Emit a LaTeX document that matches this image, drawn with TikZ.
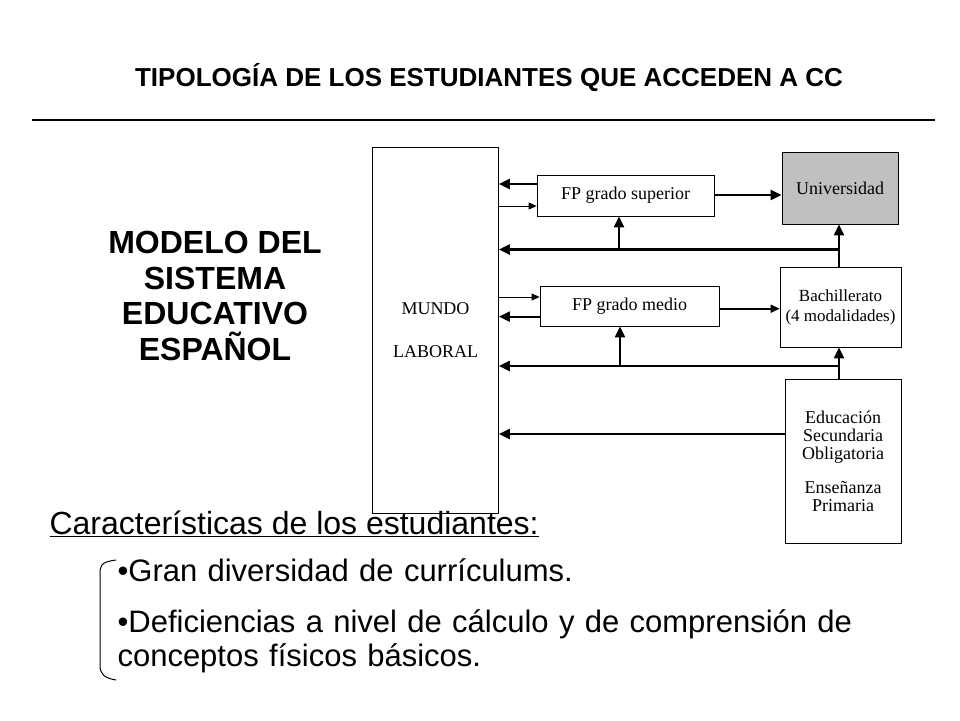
\documentclass[tikz,border=0pt]{standalone}
\usepackage{fontspec}
\setmainfont{Liberation Sans}
\newfontfamily\serifbox{Liberation Serif}
\usetikzlibrary{arrows.meta}
\begin{document}
\begin{tikzpicture}[x=1pt,y=-1pt,
  bx/.style={draw,line width=0.8pt,inner sep=0pt,font=\serifbox\fontsize{18}{20}\selectfont,align=center},
  thk/.style={line width=2.2pt,-{Triangle[length=11pt,width=10pt]}},
  med/.style={line width=1.6pt,-{Triangle[length=9pt,width=8pt]}},
  thn/.style={line width=0.8pt,-{Triangle[length=8pt,width=7pt]}}]
\useasboundingbox (0,0) rectangle (960,720);
\node[font=\bfseries\fontsize{26}{30}\selectfont] (title) at (489,78) {TIPOLOGÍA DE LOS ESTUDIANTES QUE ACCEDEN A CC};
\draw[line width=2.5pt] (32,120) coordinate (r1) -- (935,120) coordinate (r2);
\node[font=\bfseries\fontsize{32}{35.5}\selectfont,align=center] (head) at (215,296) {MODELO DEL\\SISTEMA\\EDUCATIVO\\ESPAÑOL};
\node[bx,minimum width=126pt,minimum height=366pt,font=\serifbox\fontsize{18}{43}\selectfont] (mundo) at (435.5,330) {MUNDO\\LABORAL};
\node[bx,minimum width=177pt,minimum height=41pt] (fps) at (625.5,195.5) {FP grado superior};
\node[bx,minimum width=116pt,minimum height=72pt,fill={rgb,255:red,192;green,192;blue,192}] (uni) at (840,188) {Universidad};
\node[bx,minimum width=179pt,minimum height=40pt] (fpm) at (629.5,306) {FP grado medio};
\node[bx,minimum width=121pt,minimum height=80pt,font=\serifbox\fontsize{17}{20}\selectfont] (bach) at (840.5,307) {Bachillerato\\(4 modalidades)};
\node[bx,minimum width=116pt,minimum height=164pt,font=\serifbox\fontsize{18}{18}\selectfont] (edu) at (843,461) {Educación\\Secundaria\\Obligatoria\\[16pt]Enseñanza\\Primaria};
% arrows top
\draw[thk] (fps.west |- 0,184) -- (mundo.east |- 0,184);
\draw[thn] (mundo.east |- 0,206) -- (fps.west |- 0,206);
\draw[thk] (fps.east |- 0,195) -- (uni.west |- 0,195);
\coordinate (b1) at (839,249.5);
\coordinate (b1a) at (619,249.5);
\draw[thk] (b1) -- (mundo.east |- b1);
\draw[thk] (b1a) -- (fps.south -| b1a);
\draw[thk] (bach.north -| b1) -- (uni.south -| b1);
% middle
\draw[thn] (mundo.east |- 0,297) -- (fpm.west |- 0,297);
\draw[thk] (fpm.west |- 0,316.6) -- (mundo.east |- 0,316.6);
\draw[med] (fpm.east |- 0,308.7) -- (bach.west |- 0,308.7);
\coordinate (b2) at (839,366);
\coordinate (b2a) at (620,366);
\draw[thk] (b2) -- (mundo.east |- b2);
\draw[thk] (b2a) -- (fpm.south -| b2a);
\draw[thk] (edu.north -| b2) -- (bach.south -| b2);
\draw[thk] (edu.west |- 0,434) -- (mundo.east |- 0,434);
% text
\node[font=\fontsize{32}{36}\selectfont,anchor=west] (car) at (46,524) {\underline{Características de los estudiantes:}};
\node[font=\fontsize{31}{34}\selectfont,anchor=north west,align=left,text width=840pt] (b1t) at (114,555) {•Gran diversidad de currículums.};
\node[font=\fontsize{31}{34}\selectfont,anchor=north west,align=left,text width=840pt] (b2t) at (114,606) {•Deficiencias a nivel de cálculo y de comprensión de\\conceptos físicos básicos.};
\draw[line width=1pt] (116,560) coordinate (k1) .. controls (100,562) and (100,566) .. (100,575) -- (100,665) .. controls (100,674) and (104,678) .. (116,680) coordinate (k2);
\end{tikzpicture}
\end{document}
